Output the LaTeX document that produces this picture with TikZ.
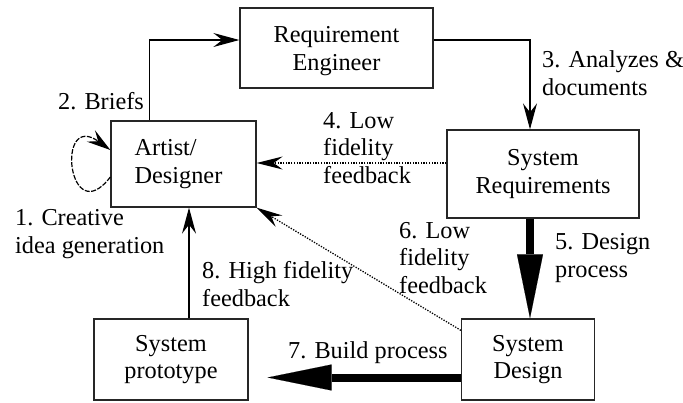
\documentclass[tikz,border=0pt]{standalone}
\usepackage{fontspec}
\setmainfont{Liberation Serif}
\usetikzlibrary{arrows.meta,calc}
\begin{document}
\begin{tikzpicture}[x=1pt,y=-1pt,
  font=\fontsize{24.3}{27.5}\selectfont,
  box/.style={draw=black!85,line width=1.3pt,rectangle,align=center,inner sep=0pt},
  lbl/.style={anchor=base west,align=left,inner sep=0pt},
  thin/.style={line width=1.2pt,-{Stealth[length=26pt,width=14pt,inset=9pt]}},
  dotline/.style={line width=1.3pt,dash pattern=on 1.3pt off 1.4pt,-{Stealth[length=26pt,width=13pt,inset=9pt]}},
  thick/.style={line width=8pt,-{Triangle[length=64pt,width=26pt,line width=0.1pt]}}]
\useasboundingbox (0,0) rectangle (683,402);
\fill[white] (0,0) rectangle (683,402);

\node[box,minimum width=193pt,minimum height=80pt] (re) at (336.5,48) {\rule{0pt}{22pt}Requirement\\Engineer};
\node[box,minimum width=145pt,minimum height=86pt,align=left] (ad) at (183.5,164) {Artist/\\Designer\hspace*{10pt}};
\node[box,minimum width=192pt,minimum height=88pt] (sr) at (543,174) {System\\Requirements};
\node[box,minimum width=133pt,minimum height=81pt] (sd) at (528,359.5) {System\\Design};
\node[box,minimum width=154pt,minimum height=81pt] (sp) at (171,359.5) {System\\prototype};

% 1 self loop
\draw[line width=1.2pt,dash pattern=on 5pt off 1.5pt,-{Stealth[length=24pt,width=14pt,inset=9pt]}]
  ($(ad.west)+(0,13)$) .. controls (68,232) and (55,110) .. ($(ad.west)+(0,-14)$);
% 2 briefs
\draw[thin] ($(ad.north west)+(39,0)$) |- ([yshift=8pt]re.west);
% 3 analyzes
\draw[thin] ([yshift=8pt]re.east) -| ([xshift=-13pt]sr.north);
% 4 low fidelity
\draw[dotline] ([yshift=11pt]sr.west) -- ([yshift=11pt]sr.west -| ad.east);
% 5 design process
\draw[thick] ([xshift=-13pt]sr.south) -- ([xshift=-13pt]sr.south |- sd.north);
% 6 low fidelity
\draw[dotline] ([yshift=-12pt]sd.north west) -- (ad.south east);
% 7 build process
\draw[thick,shorten >=19pt] ([yshift=-18pt]sd.west) -- ([yshift=-18pt]sd.west -| sp.east);
% 8 high fidelity
\draw[thin] ([xshift=18pt]sp.north) -- ([xshift=18pt]sp.north |- ad.south);

\node[lbl] (l1) at (15,253) {1. Creative\\idea generation};
\node[lbl] (l2) at (58,109) {2. Briefs};
\node[lbl] (l3) at (542,95) {3. Analyzes \&\\documents};
\node[lbl] (l4) at (323,183) {4. Low\\fidelity\\feedback};
\node[lbl] (l5) at (555,277) {5. Design\\process};
\node[lbl] (l6) at (399,293) {6. Low\\fidelity\\feedback};
\node[lbl] (l7) at (288,358) {7. Build process};
\node[lbl] (l8) at (202,306) {8. High fidelity\\feedback};
\end{tikzpicture}
\end{document}
